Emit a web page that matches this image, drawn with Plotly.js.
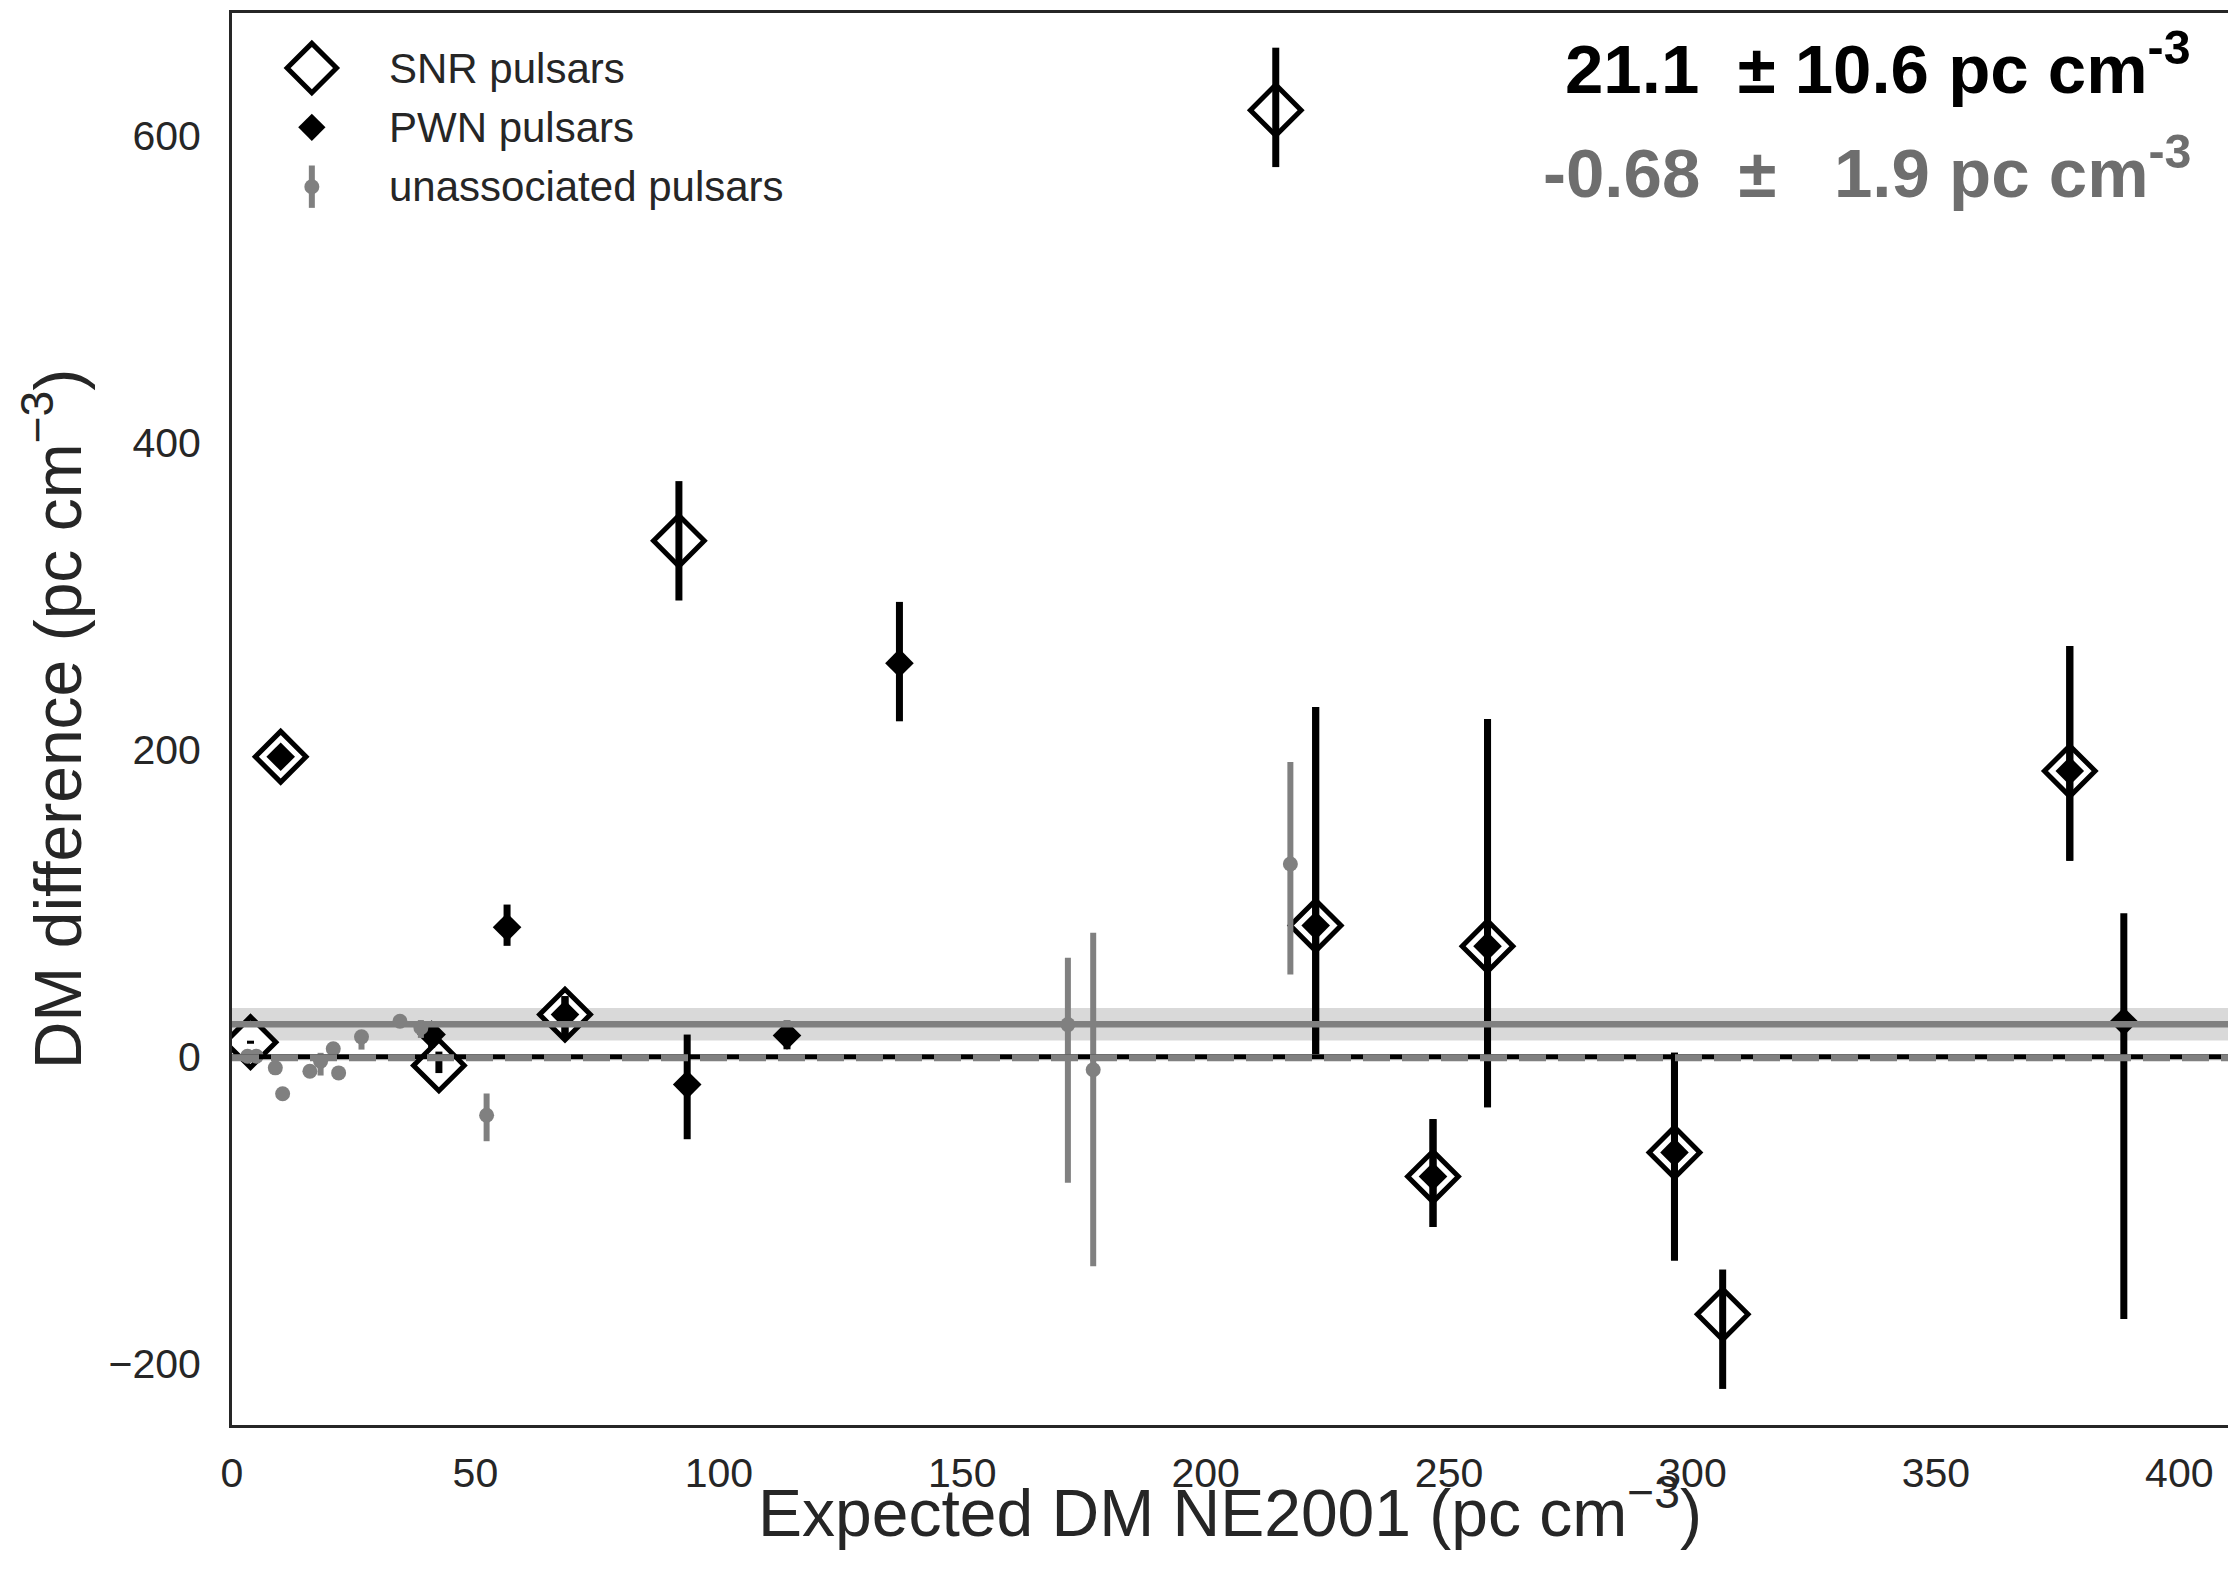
<!DOCTYPE html>
<html>
<head>
<meta charset="utf-8">
<script src="https://cdn.plot.ly/plotly-3.0.1.min.js"></script>
<style>
  html, body { margin: 0; padding: 0; background: #ffffff; }
  #chart { width: 2228px; height: 1582px; }
</style>
</head>
<body>
<div id="chart"></div>
<script>
// ---------------- data ----------------
// SNR-associated pulsars
const snrX        = [3.8, 10.0, 42.5, 68.4, 91.8, 214.4, 222.6, 246.7, 257.9, 296.3, 306.2, 377.5];
const snrY        = [9.4, 195.4, -5.7, 27.4, 336.1, 616.7, 85.4, -78.1, 72.0, -62.4, -167.9, 186.1];
const snrErrPlus  = [1, 3, 9, 12, 38.9, 40.7, 142.4, 37.4, 148, 64.9, 29.2, 81.5];
const snrErrMinus = [1, 3, 5, 16, 38.9, 37.1, 83.6, 32.9, 105, 70.5, 48.6, 58.4];

// PWN-associated pulsars
const pwnX        = [10.0, 41.0, 56.5, 68.4, 93.5, 114.0, 137.1, 222.6, 246.7, 257.9, 296.3, 377.5, 388.6];
const pwnY        = [195.4, 14.4, 84.3, 27.4, -18.2, 13.8, 256.4, 85.4, -78.1, 72.0, -62.4, 186.1, 22.9];
const pwnErrPlus  = [3, 8.6, 14.8, 12, 32.6, 9.7, 39.9, 142.4, 37.4, 148, 64.9, 81.5, 70.6];
const pwnErrMinus = [3, 8.6, 12.1, 16, 35.6, 9.0, 37.9, 83.6, 32.9, 105, 70.5, 58.4, 193.8];

// unassociated pulsars
const unX        = [3.2, 5.0, 8.9, 10.4, 16.0, 18.2, 20.8, 21.9, 26.6, 34.5, 38.8, 52.3, 171.7, 176.9, 217.4];
const unY        = [0.3, 0.3, -7.3, -24.2, -9.5, -3.0, 5.1, -10.6, 12.9, 23.1, 18.8, -38.2, 20.9, -8.5, 125.5];
const unErrPlus  = [0, 0, 0, 0, 0, 5.5, 0, 0, 3.7, 0, 5.0, 14.2, 43.5, 89.2, 66.5];
const unErrMinus = [0, 0, 0, 0, 0, 9.3, 0, 0, 8.3, 0, 6.6, 16.9, 103.1, 128.1, 72.0];

// weighted means
const meanAssoc = 21.1,  errAssoc = 10.6;
const meanUnassoc = -0.68, errUnassoc = 1.9;

// axes
const xTicks = [0, 50, 100, 150, 200, 250, 300, 350, 400];
const yTicks = [-200, 0, 200, 400, 600];

const legendNames = ['SNR pulsars', 'PWN pulsars', 'unassociated pulsars'];
const xTitle = 'Expected DM NE2001 (pc cm<sup>−3</sup>)';
const yTitle = 'DM difference (pc cm<sup>−3</sup>)';

// ---------------- styles ----------------
const BLACK = '#000000';
const GRAY = '#808080';
const TEXT = '#262626';
const FONT = 'Liberation Sans, Arial, Helvetica, sans-serif';

const traces = [];

// SNR markers (white filled diamonds)
traces.push({
  type: 'scatter', mode: 'markers', name: legendNames[0],
  x: snrX, y: snrY,
  marker: { symbol: 'diamond', size: 39, color: '#ffffff', line: { color: BLACK, width: 5 } },
  showlegend: false, hoverinfo: 'x+y'
});
// SNR error bars (drawn over the white marker interiors)
traces.push({
  type: 'scatter', mode: 'markers', name: legendNames[0] + ' errors',
  x: snrX, y: snrY,
  marker: { size: 1, color: 'rgba(0,0,0,0)' },
  error_y: { type: 'data', symmetric: false, array: snrErrPlus, arrayminus: snrErrMinus,
             color: BLACK, thickness: 7, width: 0 },
  showlegend: false, hoverinfo: 'skip'
});
// PWN
traces.push({
  type: 'scatter', mode: 'markers', name: legendNames[1],
  x: pwnX, y: pwnY,
  marker: { symbol: 'diamond', size: 22, color: BLACK, line: { width: 0 } },
  error_y: { type: 'data', symmetric: false, array: pwnErrPlus, arrayminus: pwnErrMinus,
             color: BLACK, thickness: 7, width: 0 },
  showlegend: false
});
// unassociated
traces.push({
  type: 'scatter', mode: 'markers', name: legendNames[2],
  x: unX, y: unY,
  marker: { symbol: 'circle', size: 15, color: GRAY, line: { width: 0 } },
  error_y: { type: 'data', symmetric: false, array: unErrPlus, arrayminus: unErrMinus,
             color: GRAY, thickness: 6, width: 0 },
  showlegend: false
});

// ---- hand-built legend (on a hidden overlay axis in plot-fraction units) ----
const legX = 0.040;
const legRows = [0.961, 0.919, 0.877];
traces.push({
  type: 'scatter', mode: 'markers', xaxis: 'x2', yaxis: 'y2', x: [legX], y: [legRows[0]],
  marker: { symbol: 'diamond', size: 38, color: '#ffffff', line: { color: BLACK, width: 5 } },
  showlegend: false, hoverinfo: 'skip', cliponaxis: false
});
traces.push({
  type: 'scatter', mode: 'markers', xaxis: 'x2', yaxis: 'y2', x: [legX], y: [legRows[1]],
  marker: { symbol: 'diamond', size: 21, color: BLACK, line: { width: 0 } },
  showlegend: false, hoverinfo: 'skip', cliponaxis: false
});
traces.push({
  type: 'scatter', mode: 'markers', xaxis: 'x2', yaxis: 'y2', x: [legX], y: [legRows[2]],
  marker: { symbol: 'circle', size: 15, color: GRAY, line: { width: 0 } },
  error_y: { type: 'constant', value: 0.0150, color: GRAY, thickness: 6, width: 0 },
  showlegend: false, hoverinfo: 'skip', cliponaxis: false
});

const NB = '\u00a0';
const statText1 = meanAssoc.toFixed(1) + NB + NB + '±' + NB + errAssoc.toFixed(1) + ' pc cm<sup>-3</sup>';
const statText2 = meanUnassoc.toFixed(2) + NB + NB + '±' + NB + NB + NB + errUnassoc.toFixed(1) + ' pc cm<sup>-3</sup>';

const annotations = [
  { xref: 'paper', yref: 'paper', x: 0.9825, y: 0.964, xanchor: 'right', yanchor: 'middle',
    text: '<b>' + statText1 + '</b>', showarrow: false,
    font: { family: FONT, size: 69, color: '#000000' } },
  { xref: 'paper', yref: 'paper', x: 0.9825, y: 0.890, xanchor: 'right', yanchor: 'middle',
    text: '<b>' + statText2 + '</b>', showarrow: false,
    font: { family: FONT, size: 69, color: '#6e6e6e' } },
  // x-axis title
  { xref: 'paper', yref: 'paper', x: 0.5, y: -0.090, xanchor: 'center', yanchor: 'bottom',
    text: xTitle, showarrow: false,
    font: { family: FONT, size: 66, color: TEXT } }
];
legendNames.forEach(function (name, i) {
  annotations.push({
    xref: 'paper', yref: 'paper', x: 0.0777, y: legRows[i], xanchor: 'left', yanchor: 'middle',
    text: name, showarrow: false, font: { family: FONT, size: 42, color: TEXT }
  });
});

const shapes = [
  // band of the associated mean
  { type: 'rect', layer: 'below', xref: 'paper', x0: 0, x1: 1, yref: 'y',
    y0: meanAssoc - errAssoc, y1: meanAssoc + errAssoc,
    fillcolor: '#d9d9d9', line: { width: 0 } },
  // band of the unassociated mean
  { type: 'rect', layer: 'below', xref: 'paper', x0: 0, x1: 1, yref: 'y',
    y0: meanUnassoc - errUnassoc, y1: meanUnassoc + errUnassoc,
    fillcolor: '#d9d9d9', line: { width: 0 } },
  // associated mean line
  { type: 'line', layer: 'above', xref: 'paper', x0: 0, x1: 1, yref: 'y',
    y0: meanAssoc, y1: meanAssoc, line: { color: GRAY, width: 6.5 } },
  // zero line
  { type: 'line', layer: 'above', xref: 'paper', x0: 0, x1: 1, yref: 'y',
    y0: 0, y1: 0, line: { color: BLACK, width: 5 } },
  // unassociated mean line (dashed)
  { type: 'line', layer: 'above', xref: 'paper', x0: 0, x1: 1, yref: 'y',
    y0: meanUnassoc, y1: meanUnassoc, line: { color: GRAY, width: 7, dash: '27px,12px' } }
];

const layout = {
  width: 2228, height: 1582,
  margin: { l: 232, r: 0, t: 13, b: 157, pad: 0 },
  paper_bgcolor: '#ffffff', plot_bgcolor: '#ffffff',
  showlegend: false,
  font: { family: FONT, color: TEXT },
  xaxis: {
    range: [0, 410], tickvals: xTicks, ticktext: xTicks.map(String),
    showgrid: false, zeroline: false,
    showline: true, mirror: true, linecolor: TEXT, linewidth: 3,
    ticks: '', ticklabelstandoff: 10,
    tickfont: { family: FONT, size: 41, color: TEXT }
  },
  yaxis: {
    range: [-240, 680], tickvals: yTicks, ticktext: yTicks.map(function (v) { return v < 0 ? '−' + Math.abs(v) : String(v); }),
    showgrid: false, zeroline: false,
    showline: true, mirror: false, linecolor: TEXT, linewidth: 3,
    ticks: '', ticklabelstandoff: 20,
    tickfont: { family: FONT, size: 41, color: TEXT },
    title: { text: yTitle, font: { family: FONT, size: 66, color: TEXT }, standoff: 6 }
  },
  xaxis2: { overlaying: 'x', range: [0, 1], visible: false, fixedrange: true },
  yaxis2: { overlaying: 'y', range: [0, 1], visible: false, fixedrange: true },
  shapes: shapes,
  annotations: annotations
};

Plotly.newPlot('chart', traces, layout, { displayModeBar: false, staticPlot: true });
</script>
</body>
</html>
